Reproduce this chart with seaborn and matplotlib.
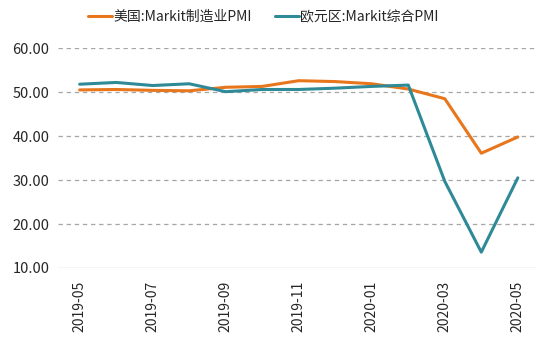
import matplotlib
matplotlib.use("Agg")
import matplotlib.pyplot as plt
import seaborn as sns
import pandas as pd

months = ["2019-05", "2019-06", "2019-07", "2019-08", "2019-09", "2019-10", "2019-11",
          "2019-12", "2020-01", "2020-02", "2020-03", "2020-04", "2020-05"]
us_mfg_pmi = [50.5, 50.6, 50.4, 50.3, 51.1, 51.3, 52.6, 52.4, 51.9, 50.7, 48.5, 36.1, 39.8]
ez_composite_pmi = [51.8, 52.2, 51.5, 51.9, 50.1, 50.6, 50.6, 50.9, 51.3, 51.6, 29.7, 13.6, 30.5]
series_names = ["美国:Markit制造业PMI", "欧元区:Markit综合PMI"]
colors = ["#E8761C", "#2F8A98"]
y_ticks = [10, 20, 30, 40, 50, 60]

sns.set_theme(style="white")
plt.rcParams["font.family"] = ["Noto Sans CJK SC", "DejaVu Sans"]

df = pd.DataFrame({
    "month": months * 2,
    "idx": list(range(len(months))) * 2,
    "value": us_mfg_pmi + ez_composite_pmi,
    "series": [series_names[0]] * len(months) + [series_names[1]] * len(months),
})

fig = plt.figure(figsize=(5.5, 3.44), dpi=100)
ax = fig.add_axes([0.105, 0.221, 0.871, 0.639])

for y in y_ticks[1:]:
    ax.axhline(y, color="#A6A6A6", lw=0.9, ls=(0, (3.5, 3)), zorder=0)
ax.axhline(y_ticks[0], color="#D0D0D0", lw=1.0, zorder=0)

sns.lineplot(data=df, x="idx", y="value", hue="series", palette=colors,
             linewidth=2.2, ax=ax, legend=False, zorder=3)

ax.set_xlim(-0.6, 12.52)
ax.set_ylim(10, 60)
ax.set_yticks(y_ticks)
ax.set_yticklabels([f"{v:.2f}" for v in y_ticks], fontsize=10.5, color="#262626")
ax.set_xticks(list(range(0, len(months), 2)))
ax.set_xticklabels(months[::2], rotation=90, fontsize=10, color="#262626")
ax.tick_params(axis="both", length=0, pad=6)
ax.tick_params(axis="x", pad=9)
ax.set_xlabel("")
ax.set_ylabel("")
for s in ax.spines.values():
    s.set_visible(False)

handles = [plt.Line2D([], [], color=c, lw=2.2) for c in colors]
fig.legend(handles, series_names, loc="center", bbox_to_anchor=(0.479, 0.95),
           ncol=2, frameon=False, fontsize=10, handlelength=1.7,
           handletextpad=0.1, columnspacing=1.7, labelcolor="#262626")

fig.savefig("out.png", dpi=100)
